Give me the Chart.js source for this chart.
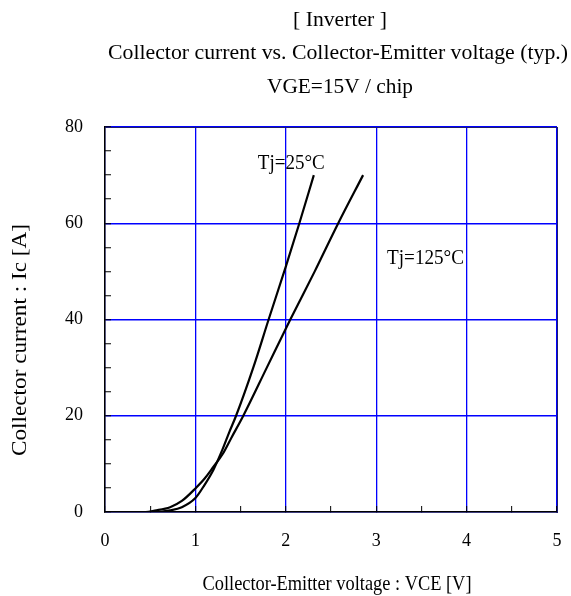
<!DOCTYPE html>
<html>
<head>
<meta charset="utf-8">
<script src="https://cdn.jsdelivr.net/npm/chart.js@4/dist/chart.umd.min.js"></script>
<style>
  html, body { margin: 0; padding: 0; background: #fff; }
  #wrap { width: 571px; height: 596px; }
</style>
</head>
<body>
<div id="wrap"><canvas id="ic-chart"></canvas></div>
<script>
// values (VCE in V, Ic in A)
const vce25 = [0, 0.55, 0.72, 0.85, 1.0, 1.1, 1.2, 1.3, 1.375, 1.45, 1.64, 1.81, 2.0, 2.15, 2.31];
const ic25 = [0, 0, 0.35, 1.0, 2.9, 5.6, 8.8, 13.0, 16.6, 20, 30, 40, 51, 60, 70];
const vce125 = [0, 0.45, 0.55, 0.72, 0.85, 1.0, 1.1, 1.2, 1.3, 1.4, 1.53, 1.79, 2.05, 2.32, 2.58, 2.855];
const ic125 = [0, 0, 0.3, 1.0, 2.3, 4.9, 6.9, 9.4, 12.0, 15.5, 20, 30, 40, 50, 60, 70];

const titleLines = ["[ Inverter ]", "Collector current vs. Collector-Emitter voltage (typ.)", "VGE=15V / chip"];
const xTitle = "Collector-Emitter voltage : VCE [V]";
const yTitle = "Collector current : Ic [A]";
const curveLabels = [
    { text: "Tj=25°C", x: 1.69, y: 72.3 },
    { text: "Tj=125°C", x: 3.12, y: 52.7 }
];

const serif = "'Liberation Serif', 'Times New Roman', serif";
const gridBlue = '#0000ff';
const frameColor = '#1c1c6e';

const toPoints = (xs, ys) => xs.map((x, i) => ({ x: x, y: ys[i] }));

// the sheet's text is a bit wider/narrower than plain Times, so squeeze it to the width seen
const fitText = (ctx, text, x, y, size, width, align) => {
    ctx.font = size + "px " + serif;
    const w = ctx.measureText(text).width;
    const k = width / w;
    ctx.save();
    ctx.translate(x, y);
    ctx.scale(k, 1);
    ctx.textAlign = align || 'center';
    ctx.fillText(text, 0, 0);
    ctx.restore();
};

const textPlugin = {
    id: 'sheetText',
    afterDraw(chart) {
        const ctx = chart.ctx;
        const xs = chart.scales.x;
        const ys = chart.scales.y;
        ctx.save();
        ctx.fillStyle = '#000';
        ctx.textBaseline = 'middle';

        fitText(ctx, titleLines[0], 340, 20, 22, 94);
        fitText(ctx, titleLines[1], 338, 53, 22, 460);
        fitText(ctx, titleLines[2], 340, 87, 22, 146);

        fitText(ctx, xTitle, 337, 584, 21, 269);

        ctx.save();
        ctx.translate(20, 340);
        ctx.rotate(-Math.PI / 2);
        fitText(ctx, yTitle, 0, 0, 22, 232);
        ctx.restore();

        fitText(ctx, curveLabels[0].text, xs.getPixelForValue(curveLabels[0].x), ys.getPixelForValue(curveLabels[0].y), 20, 67, 'left');
        fitText(ctx, curveLabels[1].text, xs.getPixelForValue(curveLabels[1].x), ys.getPixelForValue(curveLabels[1].y), 20, 77, 'left');
        ctx.restore();
    }
};

// top / right edges of the box: bare axes that only draw their border
const frameAxis = (position) => ({
    type: 'linear',
    position: position,
    display: true,
    ticks: { display: false },
    grid: { display: false },
    border: { display: true, color: frameColor, width: 1 },
    afterFit: (scale) => {
        if (scale.isHorizontal()) { scale.height = 0; } else { scale.width = 0; }
        scale.paddingLeft = 0; scale.paddingRight = 0;
        scale.paddingTop = 0; scale.paddingBottom = 0;
    }
});

const ctx = document.getElementById('ic-chart');

const chart = new Chart(ctx, {
    type: 'line',
    data: {
        datasets: [
            {
                label: 'Tj=25°C',
                data: toPoints(vce25, ic25),
                borderColor: '#000',
                borderWidth: 2.2,
                pointRadius: 0,
                cubicInterpolationMode: 'monotone'
            },
            {
                label: 'Tj=125°C',
                data: toPoints(vce125, ic125),
                borderColor: '#000',
                borderWidth: 2.2,
                pointRadius: 0,
                cubicInterpolationMode: 'monotone'
            }
        ]
    },
    options: {
        responsive: true,
        maintainAspectRatio: false,
        animation: false,
        layout: {
            padding: { top: 127, right: 14, bottom: 0, left: 0 }
        },
        scales: {
            x: {
                type: 'linear',
                min: 0,
                max: 5,
                afterFit: (scale) => {
                    scale.height = 84;
                    scale.paddingLeft = 0;
                    scale.paddingRight = 0;
                },
                ticks: {
                    stepSize: 0.5,
                    padding: 24,
                    autoSkip: false,
                    color: '#000',
                    font: { family: serif, size: 18 },
                    maxRotation: 0,
                    callback: (v) => Number.isInteger(v) ? v : ''
                },
                grid: {
                    color: (c) => (c.tick && c.tick.value % 1 === 0) ? gridBlue : 'rgba(0,0,0,0)',
                    tickColor: '#000',
                    tickWidth: 1,
                    tickLength: -6,
                    lineWidth: 1.3
                },
                border: { color: '#000', width: 1.5 }
            },
            y: {
                min: 0,
                max: 80,
                afterFit: (scale) => { scale.width = 105; },
                ticks: {
                    stepSize: 5,
                    padding: 28,
                    autoSkip: false,
                    color: '#000',
                    font: { family: serif, size: 18 },
                    callback: (v) => v % 20 === 0 ? v : ''
                },
                grid: {
                    color: (c) => (c.tick && c.tick.value % 20 === 0) ? gridBlue : 'rgba(0,0,0,0)',
                    tickColor: '#000',
                    tickWidth: 1,
                    tickLength: -6,
                    lineWidth: 1.5
                },
                border: { color: '#000', width: 1.5 }
            },
            xTop: frameAxis('top'),
            yRight: frameAxis('right')
        },
        plugins: {
            legend: { display: false },
            tooltip: { enabled: false }
        }
    },
    plugins: [textPlugin]
});
</script>
</body>
</html>
